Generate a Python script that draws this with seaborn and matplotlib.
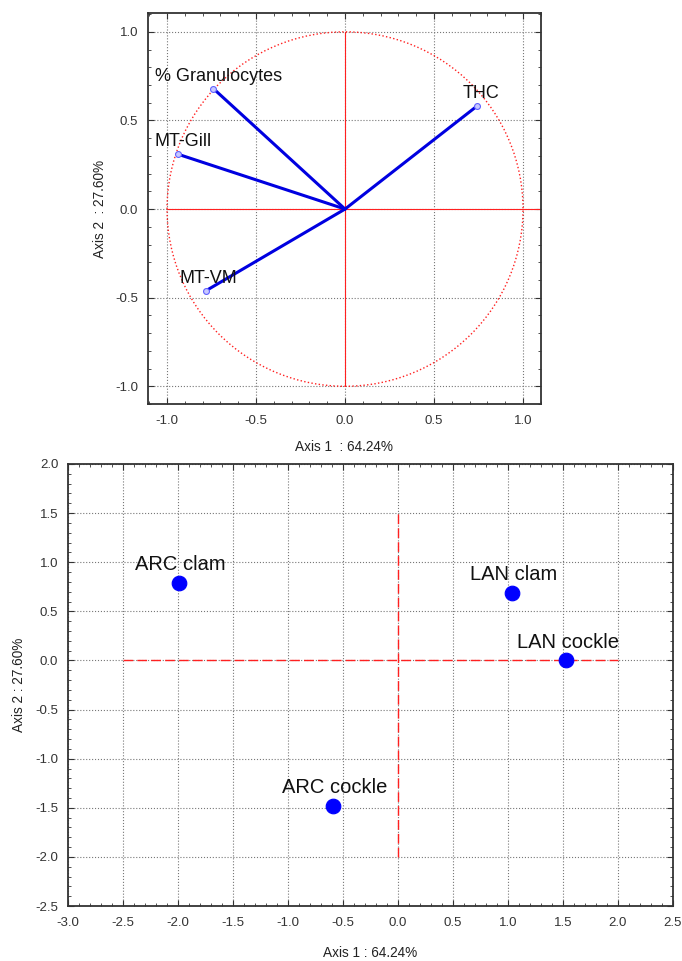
import numpy as np
import pandas as pd
import matplotlib
matplotlib.use("Agg")
import matplotlib.pyplot as plt
import seaborn as sns
from matplotlib.patches import Circle
from matplotlib.ticker import MultipleLocator, FormatStrFormatter

# -- data --
variables = ["% Granulocytes", "THC", "MT-Gill", "MT-VM"]
var_axis1 = [-0.74, 0.74, -0.94, -0.78]
var_axis2 = [0.68, 0.58, 0.31, -0.46]

groups = ["ARC clam", "LAN clam", "LAN cockle", "ARC cockle"]
grp_axis1 = [-1.99, 1.04, 1.53, -0.59]
grp_axis2 = [0.79, 0.69, 0.0, -1.48]

ticks_top = [-1.0, -0.5, 0.0, 0.5, 1.0]
xticks_bot = [-3.0, -2.5, -2.0, -1.5, -1.0, -0.5, 0.0, 0.5, 1.0, 1.5, 2.0, 2.5]
yticks_bot = [-2.5, -2.0, -1.5, -1.0, -0.5, 0.0, 0.5, 1.0, 1.5, 2.0]

# label offsets (points) for the variable names
var_offsets = {"% Granulocytes": (-42, 9), "THC": (-10, 9), "MT-Gill": (-17, 9), "MT-VM": (-19, 9)}

sns.set_style("white")
plt.rcParams['font.family'] = ['Liberation Sans', 'DejaVu Sans']
plt.rcParams['axes.unicode_minus'] = False

fig = plt.figure(figsize=(6.82, 9.61), dpi=100)
ax1 = fig.add_axes([0.217, 0.5796, 0.576, 0.407])
ax2 = fig.add_axes([0.0997, 0.0572, 0.887, 0.46])

def style_axes(ax, xt, yt):
    ax.set_xticks(xt)
    ax.set_yticks(yt)
    ax.xaxis.set_minor_locator(MultipleLocator(0.1))
    ax.yaxis.set_minor_locator(MultipleLocator(0.1))
    ax.xaxis.set_major_formatter(FormatStrFormatter('%.1f'))
    ax.yaxis.set_major_formatter(FormatStrFormatter('%.1f'))
    ax.tick_params(which='both', direction='in', top=True, right=True, bottom=True, left=True,
                   colors='#333333', labelsize=9.5, labelcolor='#333333')
    ax.tick_params(which='major', length=4, width=0.8)
    ax.tick_params(which='minor', length=2, width=0.6)
    ax.tick_params(axis='x', which='major', pad=8)
    ax.tick_params(axis='y', which='major', pad=7)
    ax.grid(True, which='major', linestyle=':', color='#777777', linewidth=0.8)
    ax.set_axisbelow(True)
    for s in ax.spines.values():
        s.set_color('#333333')
        s.set_linewidth(1.3)

# -- top: correlation circle --
rows = []
for v, a, b in zip(variables, var_axis1, var_axis2):
    rows.append({"var": v, "step": 0, "a1": 0.0, "a2": 0.0})
    rows.append({"var": v, "step": 1, "a1": a, "a2": b})
vec_df = pd.DataFrame(rows)

ax1.add_patch(Circle((0, 0), 1.0, fill=False, edgecolor='#ff2020', linestyle=':', linewidth=1.0))
ax1.plot([-1.0, 1.1], [0, 0], color='#ff2020', linewidth=0.8)
ax1.plot([0, 0], [-1.0, 1.0], color='#ff2020', linewidth=0.8)
sns.lineplot(data=vec_df, x="a1", y="a2", units="var", estimator=None, sort=False,
             color='#0000e0', linewidth=2.2, ax=ax1)
sns.scatterplot(x=var_axis1, y=var_axis2, s=18, facecolor='#c8c8ff', edgecolor='#6060ff',
                linewidth=0.8, zorder=5, ax=ax1)
for v, a, b in zip(variables, var_axis1, var_axis2):
    ax1.annotate(v, (a, b), xytext=var_offsets[v], textcoords='offset points',
                 ha='left', va='center', fontsize=13, color='#111111')
ax1.set_xlim(-1.107, 1.1)
ax1.set_ylim(-1.1, 1.107)
style_axes(ax1, ticks_top, ticks_top)
ax1.set_xlabel("Axis 1  : 64.24%", fontsize=9.8, color='#222222', labelpad=9)
ax1.set_ylabel("Axis 2  : 27.60%", fontsize=9.8, color='#222222', labelpad=6)

# -- bottom: group scores --
ax2.plot([-2.5, 2.0], [0, 0], color='#ff2020', linestyle='--', dashes=(7, 3), linewidth=1.0)
ax2.plot([0, 0], [-2.0, 1.5], color='#ff2020', linestyle='--', dashes=(7, 3), linewidth=1.0)
sns.scatterplot(x=grp_axis1, y=grp_axis2, s=110, color='#0000ff', edgecolor='#0000ff',
                zorder=5, ax=ax2)
for g, a, b in zip(groups, grp_axis1, grp_axis2):
    ax2.annotate(g, (a, b), xytext=(1, 13), textcoords='offset points',
                 ha='center', va='center', fontsize=14.5, color='#111111')
ax2.set_xlim(-3.0, 2.5)
ax2.set_ylim(-2.5, 2.0)
style_axes(ax2, xticks_bot, yticks_bot)
ax2.set_xlabel("Axis 1 : 64.24%", fontsize=9.8, color='#222222', labelpad=12)
ax2.set_ylabel("Axis 2 : 27.60%", fontsize=9.8, color='#222222', labelpad=7)

fig.savefig("out.png", dpi=100, facecolor='white')
